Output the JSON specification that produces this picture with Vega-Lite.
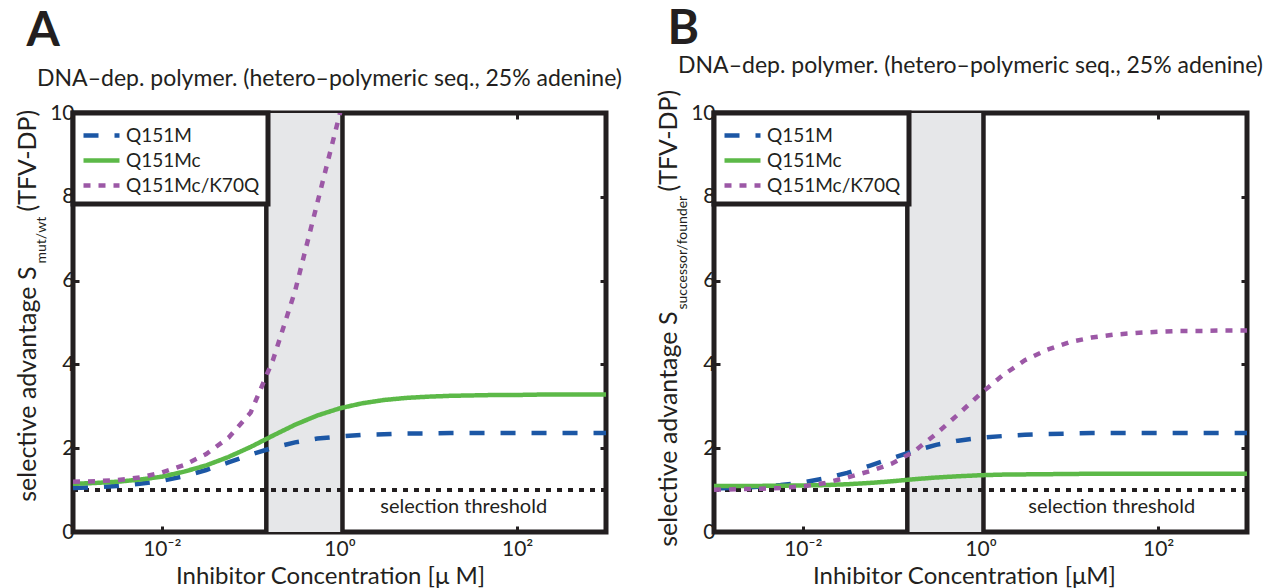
{
  "$schema": "https://vega.github.io/schema/vega-lite/v6.json",
  "background": "white",
  "padding": {"left": 12, "top": 5, "right": 4, "bottom": 0},
  "config": {
    "font": "Lato",
    "view": {"stroke": "#231f20", "strokeWidth": 5},
    "axis": {"grid": false, "domain": false, "tickColor": "#231f20", "tickWidth": 3, "tickSize": -6, "labelFont": "Lato", "labelFontSize": 21, "labelColor": "#231f20", "titleFont": "Lato", "titleFontSize": 25, "titleFontWeight": "normal", "titleColor": "#231f20"},
    "legend": {"orient": "top-left", "offset": 0, "strokeColor": "#231f20", "strokeWidth": 5, "fillColor": "white", "padding": 8, "symbolType": "M-1,0H2", "symbolSize": 576, "symbolStrokeWidth": 4.5, "labelFont": "Lato", "labelFontSize": 19, "labelColor": "#231f20", "labelOffset": 16, "rowPadding": 0, "cornerRadius": 0},
    "title": {"font": "Lato", "color": "#231f20"}
  },
  "datasets": {
    "A": [
      {"c": 0.001, "s": "Q151M", "v": 1.05}, {"c": 0.00178, "s": "Q151M", "v": 1.07}, {"c": 0.00316, "s": "Q151M", "v": 1.10}, {"c": 0.00562, "s": "Q151M", "v": 1.15}, {"c": 0.01, "s": "Q151M", "v": 1.22}, {"c": 0.0178, "s": "Q151M", "v": 1.33}, {"c": 0.0316, "s": "Q151M", "v": 1.48}, {"c": 0.0562, "s": "Q151M", "v": 1.66}, {"c": 0.1, "s": "Q151M", "v": 1.85}, {"c": 0.178, "s": "Q151M", "v": 2.01}, {"c": 0.316, "s": "Q151M", "v": 2.14}, {"c": 0.562, "s": "Q151M", "v": 2.23}, {"c": 1, "s": "Q151M", "v": 2.28}, {"c": 1.78, "s": "Q151M", "v": 2.32}, {"c": 3.16, "s": "Q151M", "v": 2.33}, {"c": 5.62, "s": "Q151M", "v": 2.35}, {"c": 10, "s": "Q151M", "v": 2.35}, {"c": 17.8, "s": "Q151M", "v": 2.36}, {"c": 31.6, "s": "Q151M", "v": 2.36}, {"c": 56.2, "s": "Q151M", "v": 2.36}, {"c": 100, "s": "Q151M", "v": 2.36}, {"c": 178, "s": "Q151M", "v": 2.36}, {"c": 316, "s": "Q151M", "v": 2.36}, {"c": 562, "s": "Q151M", "v": 2.36}, {"c": 1000, "s": "Q151M", "v": 2.36},
      {"c": 0.001, "s": "Q151Mc", "v": 1.15}, {"c": 0.00178, "s": "Q151Mc", "v": 1.17}, {"c": 0.00316, "s": "Q151Mc", "v": 1.20}, {"c": 0.00562, "s": "Q151Mc", "v": 1.25}, {"c": 0.01, "s": "Q151Mc", "v": 1.32}, {"c": 0.0178, "s": "Q151Mc", "v": 1.44}, {"c": 0.0316, "s": "Q151Mc", "v": 1.59}, {"c": 0.0562, "s": "Q151Mc", "v": 1.79}, {"c": 0.1, "s": "Q151Mc", "v": 2.03}, {"c": 0.178, "s": "Q151Mc", "v": 2.30}, {"c": 0.316, "s": "Q151Mc", "v": 2.56}, {"c": 0.562, "s": "Q151Mc", "v": 2.78}, {"c": 1, "s": "Q151Mc", "v": 2.95}, {"c": 1.78, "s": "Q151Mc", "v": 3.07}, {"c": 3.16, "s": "Q151Mc", "v": 3.15}, {"c": 5.62, "s": "Q151Mc", "v": 3.20}, {"c": 10, "s": "Q151Mc", "v": 3.23}, {"c": 17.8, "s": "Q151Mc", "v": 3.25}, {"c": 31.6, "s": "Q151Mc", "v": 3.26}, {"c": 56.2, "s": "Q151Mc", "v": 3.27}, {"c": 100, "s": "Q151Mc", "v": 3.27}, {"c": 178, "s": "Q151Mc", "v": 3.28}, {"c": 316, "s": "Q151Mc", "v": 3.28}, {"c": 562, "s": "Q151Mc", "v": 3.28}, {"c": 1000, "s": "Q151Mc", "v": 3.28},
      {"c": 0.001, "s": "Q151Mc/K70Q", "v": 1.20}, {"c": 0.00178, "s": "Q151Mc/K70Q", "v": 1.21}, {"c": 0.00316, "s": "Q151Mc/K70Q", "v": 1.24}, {"c": 0.00562, "s": "Q151Mc/K70Q", "v": 1.30}, {"c": 0.01, "s": "Q151Mc/K70Q", "v": 1.42}, {"c": 0.0178, "s": "Q151Mc/K70Q", "v": 1.60}, {"c": 0.0316, "s": "Q151Mc/K70Q", "v": 1.86}, {"c": 0.0562, "s": "Q151Mc/K70Q", "v": 2.25}, {"c": 0.1, "s": "Q151Mc/K70Q", "v": 2.85}, {"c": 0.178, "s": "Q151Mc/K70Q", "v": 4.10}, {"c": 0.316, "s": "Q151Mc/K70Q", "v": 5.75}, {"c": 0.562, "s": "Q151Mc/K70Q", "v": 7.85}, {"c": 1, "s": "Q151Mc/K70Q", "v": 9.95}, {"c": 1.08, "s": "Q151Mc/K70Q", "v": 10.25}
    ],
    "B": [
      {"c": 0.001, "s": "Q151M", "v": 1.04}, {"c": 0.00178, "s": "Q151M", "v": 1.055}, {"c": 0.00316, "s": "Q151M", "v": 1.08}, {"c": 0.00562, "s": "Q151M", "v": 1.12}, {"c": 0.01, "s": "Q151M", "v": 1.18}, {"c": 0.0178, "s": "Q151M", "v": 1.28}, {"c": 0.0316, "s": "Q151M", "v": 1.41}, {"c": 0.0562, "s": "Q151M", "v": 1.58}, {"c": 0.1, "s": "Q151M", "v": 1.76}, {"c": 0.178, "s": "Q151M", "v": 1.93}, {"c": 0.316, "s": "Q151M", "v": 2.08}, {"c": 0.562, "s": "Q151M", "v": 2.18}, {"c": 1, "s": "Q151M", "v": 2.25}, {"c": 1.78, "s": "Q151M", "v": 2.29}, {"c": 3.16, "s": "Q151M", "v": 2.32}, {"c": 5.62, "s": "Q151M", "v": 2.34}, {"c": 10, "s": "Q151M", "v": 2.35}, {"c": 17.8, "s": "Q151M", "v": 2.36}, {"c": 31.6, "s": "Q151M", "v": 2.36}, {"c": 56.2, "s": "Q151M", "v": 2.36}, {"c": 100, "s": "Q151M", "v": 2.36}, {"c": 178, "s": "Q151M", "v": 2.36}, {"c": 316, "s": "Q151M", "v": 2.36}, {"c": 562, "s": "Q151M", "v": 2.36}, {"c": 1000, "s": "Q151M", "v": 2.36},
      {"c": 0.001, "s": "Q151Mc", "v": 1.10}, {"c": 0.00178, "s": "Q151Mc", "v": 1.10}, {"c": 0.00316, "s": "Q151Mc", "v": 1.10}, {"c": 0.00562, "s": "Q151Mc", "v": 1.105}, {"c": 0.01, "s": "Q151Mc", "v": 1.11}, {"c": 0.0178, "s": "Q151Mc", "v": 1.12}, {"c": 0.0316, "s": "Q151Mc", "v": 1.14}, {"c": 0.0562, "s": "Q151Mc", "v": 1.17}, {"c": 0.1, "s": "Q151Mc", "v": 1.21}, {"c": 0.178, "s": "Q151Mc", "v": 1.26}, {"c": 0.316, "s": "Q151Mc", "v": 1.30}, {"c": 0.562, "s": "Q151Mc", "v": 1.33}, {"c": 1, "s": "Q151Mc", "v": 1.355}, {"c": 1.78, "s": "Q151Mc", "v": 1.37}, {"c": 3.16, "s": "Q151Mc", "v": 1.375}, {"c": 5.62, "s": "Q151Mc", "v": 1.38}, {"c": 10, "s": "Q151Mc", "v": 1.385}, {"c": 17.8, "s": "Q151Mc", "v": 1.39}, {"c": 31.6, "s": "Q151Mc", "v": 1.39}, {"c": 56.2, "s": "Q151Mc", "v": 1.39}, {"c": 100, "s": "Q151Mc", "v": 1.39}, {"c": 178, "s": "Q151Mc", "v": 1.39}, {"c": 316, "s": "Q151Mc", "v": 1.39}, {"c": 562, "s": "Q151Mc", "v": 1.39}, {"c": 1000, "s": "Q151Mc", "v": 1.39},
      {"c": 0.001, "s": "Q151Mc/K70Q", "v": 1.01}, {"c": 0.00178, "s": "Q151Mc/K70Q", "v": 1.02}, {"c": 0.00316, "s": "Q151Mc/K70Q", "v": 1.03}, {"c": 0.00562, "s": "Q151Mc/K70Q", "v": 1.05}, {"c": 0.01, "s": "Q151Mc/K70Q", "v": 1.09}, {"c": 0.0178, "s": "Q151Mc/K70Q", "v": 1.17}, {"c": 0.0316, "s": "Q151Mc/K70Q", "v": 1.30}, {"c": 0.0562, "s": "Q151Mc/K70Q", "v": 1.45}, {"c": 0.1, "s": "Q151Mc/K70Q", "v": 1.63}, {"c": 0.178, "s": "Q151Mc/K70Q", "v": 1.92}, {"c": 0.316, "s": "Q151Mc/K70Q", "v": 2.34}, {"c": 0.562, "s": "Q151Mc/K70Q", "v": 2.81}, {"c": 1, "s": "Q151Mc/K70Q", "v": 3.30}, {"c": 1.78, "s": "Q151Mc/K70Q", "v": 3.74}, {"c": 3.16, "s": "Q151Mc/K70Q", "v": 4.10}, {"c": 5.62, "s": "Q151Mc/K70Q", "v": 4.35}, {"c": 10, "s": "Q151Mc/K70Q", "v": 4.53}, {"c": 17.8, "s": "Q151Mc/K70Q", "v": 4.64}, {"c": 31.6, "s": "Q151Mc/K70Q", "v": 4.71}, {"c": 56.2, "s": "Q151Mc/K70Q", "v": 4.75}, {"c": 100, "s": "Q151Mc/K70Q", "v": 4.78}, {"c": 178, "s": "Q151Mc/K70Q", "v": 4.80}, {"c": 316, "s": "Q151Mc/K70Q", "v": 4.80}, {"c": 562, "s": "Q151Mc/K70Q", "v": 4.81}, {"c": 1000, "s": "Q151Mc/K70Q", "v": 4.81}
    ]
  },
  "resolve": {"scale": {"color": "independent", "strokeDash": "independent"}},
  "spacing": 28,
  "hconcat": [
    {
      "title": {"text": "A", "anchor": "start", "frame": "bounds", "fontSize": 48, "fontWeight": "bold", "offset": 10, "dx": 14},
      "resolve": {"scale": {"color": "independent", "strokeDash": "independent"}},
      "vconcat": [
        {
          "width": 533, "height": 419,
          "title": {"text": "DNA–dep. polymer. (hetero–polymeric seq., 25% adenine)", "frame": "group", "anchor": "middle", "fontSize": 23, "fontWeight": "normal", "offset": 11, "dx": -10},
          "resolve": {"axis": {"x": "independent", "y": "independent"}},
          "layer": [
            {
              "data": {"values": [{"lo": 0.15, "hi": 1.08}]},
              "mark": {"type": "rect", "fill": "#e6e7e9"},
              "encoding": {
                "x": {"field": "lo", "type": "quantitative", "scale": {"type": "log", "domain": [0.001, 1000], "nice": false}, "axis": {"orient": "top", "values": [0.01, 1, 100], "labels": false, "title": null}},
                "x2": {"field": "hi"}
              }
            },
            {
              "data": {"values": [{"c": 0.15}, {"c": 1.08}]},
              "mark": {"type": "rule", "color": "#231f20", "strokeWidth": 4.5},
              "encoding": {
                "x": {"field": "c", "type": "quantitative", "scale": {"type": "log", "domain": [0.001, 1000], "nice": false}, "axis": null},
                "y": {"datum": 0, "type": "quantitative", "scale": {"domain": [0, 10], "nice": false, "zero": false}, "axis": {"orient": "right", "values": [2, 4, 6, 8], "labels": false, "title": null}},
                "y2": {"datum": 10}
              }
            },
            {
              "data": {"values": [{}]},
              "mark": {"type": "rule", "color": "#231f20", "strokeWidth": 4, "strokeDash": [5, 6]},
              "encoding": {
                "y": {"datum": 1, "type": "quantitative", "scale": {"domain": [0, 10], "nice": false, "zero": false}, "axis": {"orient": "left", "values": [0], "ticks": false, "labels": false, "title": "mut/wt", "titleFontSize": 14, "titleAngle": 270, "titleAlign": "left", "titleBaseline": "alphabetic", "titleX": -28, "titleY": 150}}
              }
            },
            {
              "data": {"name": "A"},
              "mark": {"type": "line", "strokeWidth": 4.5, "clip": true},
              "encoding": {
                "x": {"field": "c", "type": "quantitative", "scale": {"type": "log", "domain": [0.001, 1000], "nice": false}, "axis": {"orient": "bottom", "values": [0.01, 1, 100], "labelExpr": "datum.value < 0.1 ? '10⁻²' : datum.value < 10 ? '10⁰' : '10²'", "labelPadding": 12, "title": "Inhibitor Concentration [μ M]", "titleFontSize": 24, "titlePadding": 5, "titleX": 257}},
                "y": {"field": "v", "type": "quantitative", "scale": {"domain": [0, 10], "nice": false, "zero": false}, "axis": {"orient": "left", "values": [0, 2, 4, 6, 8, 10], "labelPadding": 5, "title": "selective advantage S", "titleAngle": 270, "titleAlign": "right", "titleBaseline": "alphabetic", "titleX": -38, "titleY": 153}},
                "color": {"field": "s", "type": "nominal", "scale": {"domain": ["Q151M", "Q151Mc", "Q151Mc/K70Q"], "range": ["#1c57a5", "#5cb948", "#9c58a6"]}, "legend": {"title": null}},
                "strokeDash": {"field": "s", "type": "nominal", "scale": {"domain": ["Q151M", "Q151Mc", "Q151Mc/K70Q"], "range": [[15, 16], [1, 0], [7, 8]]}, "legend": {"title": null}}
              }
            },
            {
              "data": {"values": [{"c": 25, "v": 0.6, "t": "selection threshold"}]},
              "mark": {"type": "text", "fontSize": 20, "color": "#231f20", "font": "Lato"},
              "encoding": {
                "x": {"field": "c", "type": "quantitative", "scale": {"type": "log", "domain": [0.001, 1000], "nice": false}, "axis": null},
                "y": {"field": "v", "type": "quantitative", "scale": {"domain": [0, 10], "nice": false, "zero": false}, "axis": {"orient": "left", "values": [0], "ticks": false, "labels": false, "title": "(TFV-DP)", "titleAngle": 270, "titleAlign": "left", "titleBaseline": "alphabetic", "titleX": -38, "titleY": 98}},
                "text": {"field": "t"}
              }
            }
          ]
        }
      ]
    },
    {
      "title": {"text": "B", "anchor": "start", "frame": "bounds", "fontSize": 48, "fontWeight": "bold", "offset": 10, "dx": 14, "dy": 11},
      "resolve": {"scale": {"color": "independent", "strokeDash": "independent"}},
      "vconcat": [
        {
          "width": 533, "height": 419,
          "title": {"text": "DNA–dep. polymer. (hetero–polymeric seq., 25% adenine)", "frame": "group", "anchor": "middle", "fontSize": 23, "fontWeight": "normal", "offset": 11, "dx": -10},
          "resolve": {"axis": {"x": "independent", "y": "independent"}},
          "layer": [
            {
              "data": {"values": [{"lo": 0.15, "hi": 1.08}]},
              "mark": {"type": "rect", "fill": "#e6e7e9"},
              "encoding": {
                "x": {"field": "lo", "type": "quantitative", "scale": {"type": "log", "domain": [0.001, 1000], "nice": false}, "axis": {"orient": "top", "values": [0.01, 1, 100], "labels": false, "title": null}},
                "x2": {"field": "hi"}
              }
            },
            {
              "data": {"values": [{"c": 0.15}, {"c": 1.08}]},
              "mark": {"type": "rule", "color": "#231f20", "strokeWidth": 4.5},
              "encoding": {
                "x": {"field": "c", "type": "quantitative", "scale": {"type": "log", "domain": [0.001, 1000], "nice": false}, "axis": null},
                "y": {"datum": 0, "type": "quantitative", "scale": {"domain": [0, 10], "nice": false, "zero": false}, "axis": {"orient": "right", "values": [2, 4, 6, 8], "labels": false, "title": null}},
                "y2": {"datum": 10}
              }
            },
            {
              "data": {"values": [{}]},
              "mark": {"type": "rule", "color": "#231f20", "strokeWidth": 4, "strokeDash": [5, 6]},
              "encoding": {
                "y": {"datum": 1, "type": "quantitative", "scale": {"domain": [0, 10], "nice": false, "zero": false}, "axis": {"orient": "left", "values": [0], "ticks": false, "labels": false, "title": "successor/founder", "titleFontSize": 14, "titleAngle": 270, "titleAlign": "left", "titleBaseline": "alphabetic", "titleX": -28, "titleY": 196}}
              }
            },
            {
              "data": {"name": "B"},
              "mark": {"type": "line", "strokeWidth": 4.5, "clip": true},
              "encoding": {
                "x": {"field": "c", "type": "quantitative", "scale": {"type": "log", "domain": [0.001, 1000], "nice": false}, "axis": {"orient": "bottom", "values": [0.01, 1, 100], "labelExpr": "datum.value < 0.1 ? '10⁻²' : datum.value < 10 ? '10⁰' : '10²'", "labelPadding": 12, "title": "Inhibitor Concentration [μM]", "titleFontSize": 24, "titlePadding": 5, "titleX": 250}},
                "y": {"field": "v", "type": "quantitative", "scale": {"domain": [0, 10], "nice": false, "zero": false}, "axis": {"orient": "left", "values": [0, 2, 4, 6, 8, 10], "labelPadding": 5, "title": "selective advantage S", "titleAngle": 270, "titleAlign": "right", "titleBaseline": "alphabetic", "titleX": -38, "titleY": 198}},
                "color": {"field": "s", "type": "nominal", "scale": {"domain": ["Q151M", "Q151Mc", "Q151Mc/K70Q"], "range": ["#1c57a5", "#5cb948", "#9c58a6"]}, "legend": {"title": null}},
                "strokeDash": {"field": "s", "type": "nominal", "scale": {"domain": ["Q151M", "Q151Mc", "Q151Mc/K70Q"], "range": [[15, 16], [1, 0], [7, 8]]}, "legend": {"title": null}}
              }
            },
            {
              "data": {"values": [{"c": 30, "v": 0.6, "t": "selection threshold"}]},
              "mark": {"type": "text", "fontSize": 20, "color": "#231f20", "font": "Lato"},
              "encoding": {
                "x": {"field": "c", "type": "quantitative", "scale": {"type": "log", "domain": [0.001, 1000], "nice": false}, "axis": null},
                "y": {"field": "v", "type": "quantitative", "scale": {"domain": [0, 10], "nice": false, "zero": false}, "axis": {"orient": "left", "values": [0], "ticks": false, "labels": false, "title": "(TFV-DP)", "titleAngle": 270, "titleAlign": "left", "titleBaseline": "alphabetic", "titleX": -38, "titleY": 78}},
                "text": {"field": "t"}
              }
            }
          ]
        }
      ]
    }
  ]
}
